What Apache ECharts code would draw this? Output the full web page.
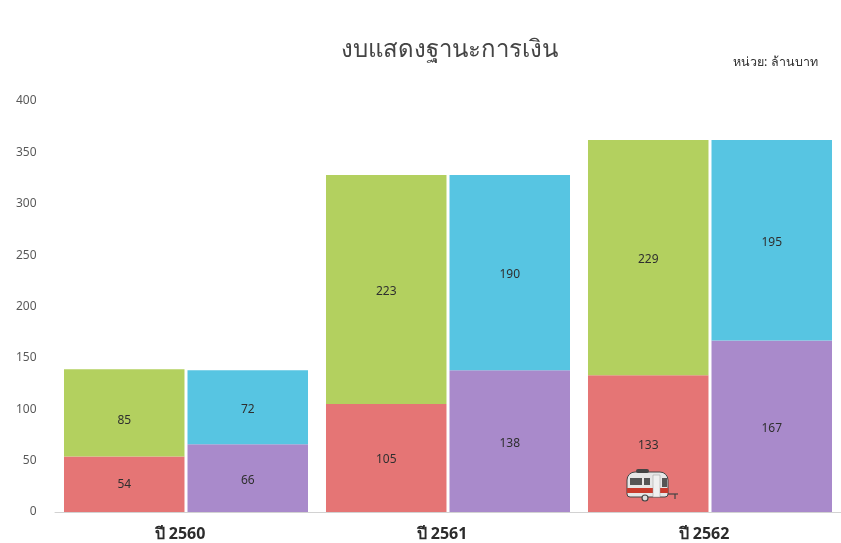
<!DOCTYPE html>
<html><head><meta charset="utf-8">
<style>html,body{margin:0;padding:0;background:#fff}#c{width:841px;height:543px}</style>
<script src="https://cdn.jsdelivr.net/npm/echarts@6/dist/echarts.min.js"></script>
</head><body><div id="c"></div>
<script>
const categories = ['ปี 2560', 'ปี 2561', 'ปี 2562'];
const assetsLower = [54, 105, 133];
const assetsUpper = [85, 223, 229];
const claimsLower = [66, 138, 167];
const claimsUpper = [72, 190, 195];
const yTicks = [0, 50, 100, 150, 200, 250, 300, 350, 400];
const chartTitle = 'งบแสดงฐานะการเงิน';
const unitText = 'หน่วย: ล้านบาท';

const font = '"Noto Sans","Open Sans",Roboto,sans-serif';
const mk = (name, data, stack, color, nudge) => ({
  name, type: 'bar', stack, barWidth: 120.5, barGap: '2.5%',
  data: data.map((value, i) => ({value, label: {offset: [0, nudge ? nudge[i] : 2]}})),
  itemStyle: {color},
  label: {show: true, position: 'inside', color: '#2f2f2f', fontSize: 12, fontFamily: font}
});
const chart = echarts.init(document.getElementById('c'), null, {renderer: 'canvas'});
const ink = {fill: '#555'};
chart.setOption({
  animation: false,
  backgroundColor: '#fff',
  grid: {left: 55, width: 788, top: 101, bottom: 31, containLabel: false},
  xAxis: {
    type: 'category', data: categories,
    axisLine: {lineStyle: {color: '#d2d2d2', width: 1}},
    axisTick: {show: false},
    axisLabel: {color: '#2b2b2b', fontSize: 16, fontWeight: 'bold', margin: 14, padding: [0, 12, 0, 0], fontFamily: font}
  },
  yAxis: {
    type: 'value', min: yTicks[0], max: yTicks[yTicks.length - 1], interval: yTicks[1] - yTicks[0],
    splitLine: {show: false}, axisLine: {show: false}, axisTick: {show: false},
    axisLabel: {color: '#595959', fontSize: 12, margin: 18.5, padding: [2, 0, 0, 0], fontFamily: font}
  },
  series: [
    mk('lowerA', assetsLower, 'a', '#e57575', [0, 2, 2]),
    mk('upperA', assetsUpper, 'a', '#b3d05f', [8, 2, 2]),
    mk('lowerB', claimsLower, 'b', '#a98acb'),
    mk('upperB', claimsUpper, 'b', '#57c5e2')
  ],
  graphic: [
    {type: 'text', left: 341, top: 38, style: {text: chartTitle, fontSize: 24, fontFamily: font, fill: '#444'}},
    {type: 'text', left: 733, top: 56, style: {text: unitText, fontSize: 12.5, fontFamily: font, fill: '#333'}},
    {type: 'group', x: 627, y: 469, z: 50, children: [
      {type: 'rect', z: 50, shape: {x: 0, y: 3, width: 41, height: 25, r: [8, 8, 3, 3]}, style: {fill: '#e6e6e6', stroke: '#444', lineWidth: 1}},
      {type: 'rect', z: 51, shape: {x: 9, y: 0, width: 13, height: 4, r: 2}, style: {fill: '#444'}},
      {type: 'rect', z: 51, shape: {x: 3, y: 9, width: 12, height: 7}, style: ink},
      {type: 'rect', z: 51, shape: {x: 17, y: 9, width: 6, height: 7}, style: ink},
      {type: 'rect', z: 51, shape: {x: 35, y: 9, width: 5, height: 9}, style: ink},
      {type: 'rect', z: 51, shape: {x: 0, y: 19, width: 41, height: 5}, style: {fill: '#c93a2c'}},
      {type: 'rect', z: 52, shape: {x: 26, y: 6, width: 7, height: 22}, style: {fill: '#f0f0f0', stroke: '#999', lineWidth: 0.5}},
      {type: 'line', z: 51, shape: {x1: 41, y1: 25, x2: 51, y2: 25}, style: {stroke: '#444', lineWidth: 1.2}},
      {type: 'line', z: 51, shape: {x1: 48, y1: 25, x2: 48, y2: 30}, style: {stroke: '#444', lineWidth: 1.2}},
      {type: 'circle', z: 53, shape: {cx: 18, cy: 29, r: 3}, style: {fill: '#ddd', stroke: '#444', lineWidth: 1.2}}
    ]}
  ]
});
</script></body></html>
